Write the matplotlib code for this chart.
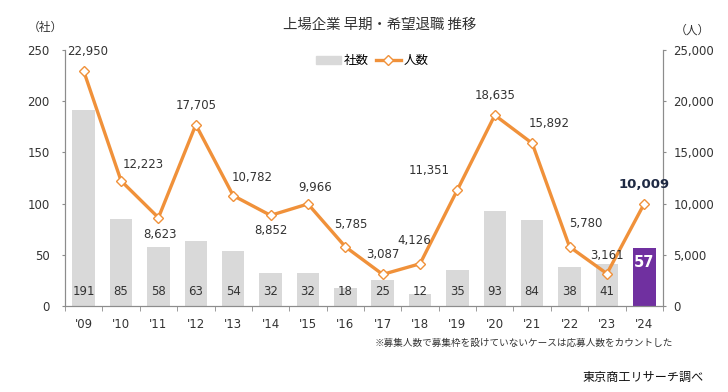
import numpy as np
import matplotlib
matplotlib.use('Agg')
from matplotlib import pyplot as plt
from matplotlib.lines import Line2D
from matplotlib.patches import Patch

plt.rcParams['font.family'] = ['DejaVu Sans', 'Noto Sans CJK JP']

# data
years = ["'09", "'10", "'11", "'12", "'13", "'14", "'15", "'16",
         "'17", "'18", "'19", "'20", "'21", "'22", "'23", "'24"]
companies = [191, 85, 58, 63, 54, 32, 32, 18, 25, 12, 35, 93, 84, 38, 41, 57]
people = [22950, 12223, 8623, 17705, 10782, 8852, 9966, 5785,
          3087, 4126, 11351, 18635, 15892, 5780, 3161, 10009]

# where each line label sits relative to its point (points)
lab_off = [(3, 14), (16, 12), (1, -12), (0, 14), (14, 13), (0, -11), (5, 12), (4, 16),
           (0, 14), (-4, 17), (-20, 14), (0, 14), (12, 14), (12, 17), (0, 13), (0, 14)]

GRAY = '#d9d9d9'
PURPLE = '#7030a0'
ORANGE = '#f0913a'
TXT = '#333333'
AX = '#8c8c8c'
JP = ['Noto Sans CJK JP']

fig = plt.figure(figsize=(7.28, 3.92), dpi=100)
ax1 = fig.add_axes([0.0893, 0.2194, 0.8214, 0.653])
ax2 = ax1.twinx()

x = np.arange(len(years))
cols = [GRAY] * (len(years) - 1) + [PURPLE]
ax1.bar(x, companies, width=0.6, color=cols, zorder=1)
ax1.set_xlim(-0.5, len(years) - 0.5)
ax1.set_ylim(0, 250)
ax1.set_yticks(np.arange(0, 251, 50))

for i, c in enumerate(companies):
    if i == len(companies) - 1:
        ax1.text(i, c - 14.5, str(c), ha='center', va='center', color='white',
                 fontsize=10.5, fontweight='bold')
    else:
        ax1.text(i, 14, str(c), ha='center', va='center', color=TXT, fontsize=8.5)

ax2.plot(x, people, color=ORANGE, lw=2.4, marker='D', ms=5.5,
         mfc='white', mec=ORANGE, mew=1.0, zorder=3)
ax2.set_ylim(0, 25000)
ax2.set_yticks(np.arange(0, 25001, 5000))
ax2.set_yticklabels(['{:,}'.format(v) for v in range(0, 25001, 5000)])

for i, p in enumerate(people):
    dx, dy = lab_off[i]
    if i == len(people) - 1:
        ax2.annotate('{:,}'.format(p), (i, p), xytext=(dx, dy), textcoords='offset points',
                     ha='center', va='center', fontsize=9.5, fontweight='bold', color='#1f2a44')
    else:
        ax2.annotate('{:,}'.format(p), (i, p), xytext=(dx, dy), textcoords='offset points',
                     ha='center', va='center', fontsize=8.5, color=TXT)

# axes styling
for a in (ax1, ax2):
    a.spines['top'].set_visible(False)
    for s in ('left', 'right', 'bottom'):
        a.spines[s].set_color(AX)
ax1.set_xticks(x)
ax1.set_xticklabels(years)
ax1.set_xticks(np.arange(-0.5, len(years), 1), minor=True)
ax1.tick_params(axis='x', which='major', length=0, pad=9, labelsize=8.5, labelcolor=TXT)
ax1.tick_params(axis='x', which='minor', length=3.5, color=AX)
ax1.tick_params(axis='y', length=2.5, color=AX, labelsize=8.5, labelcolor=TXT, pad=8.5)
ax2.tick_params(axis='y', length=2.5, color=AX, labelsize=8.5, labelcolor=TXT, pad=5)

# titles / units
fig.text(0.522, 0.936, '上場企業 早期・希望退職 推移', ha='center', va='center',
         fontsize=10.4, color=TXT, family=JP)
fig.text(0.062, 0.929, '（社）', ha='center', va='center', fontsize=8.5, color=TXT, family=JP)
fig.text(0.951, 0.923, '（人）', ha='center', va='center', fontsize=8.5, color=TXT, family=JP)

handles = [Patch(color=GRAY, label='社数'),
           Line2D([0], [0], color=ORANGE, lw=2.4, marker='D', ms=5, mfc='white',
                  mec=ORANGE, label='人数')]
fig.legend(handles=handles, loc='center', bbox_to_anchor=(0.511, 0.845), ncol=2,
           frameon=False, handlelength=2.0, handletextpad=0.2, columnspacing=0.6,
           prop={'family': JP, 'size': 9})

fig.text(0.515, 0.125, '※募集人数で募集枠を設けていないケースは応募人数をカウントした',
         ha='left', va='center', fontsize=6.9, color=TXT, family=JP)
fig.text(0.966, 0.038, '東京商工リサーチ調べ', ha='right', va='center', fontsize=8.7,
         color='#111111', family=JP)

fig.savefig('out.png', dpi=100)
